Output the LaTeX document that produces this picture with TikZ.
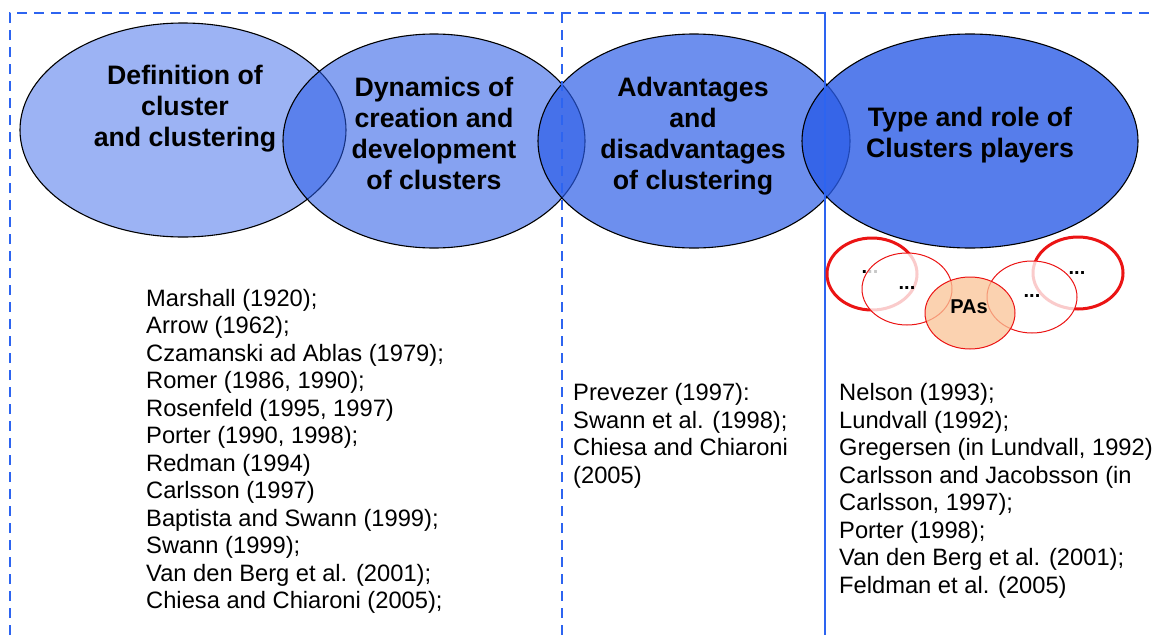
\documentclass[tikz,border=0pt]{standalone}
\usepackage{fontspec}
\setmainfont{Liberation Sans}
\usetikzlibrary{shapes.geometric}
\definecolor{frameblue}{RGB}{45,100,240}
\definecolor{ellblue}{RGB}{40,90,230}
\definecolor{pared}{RGB}{235,20,20}
\definecolor{paorange}{RGB}{250,195,150}
\begin{document}
\begin{tikzpicture}[x=1pt,y=-1pt,
  bigell/.style={ellipse, draw=black, line width=1.1pt, fill=ellblue, inner sep=0pt, minimum height=214pt},
  etitle/.style={align=center, font=\bfseries\fontsize{26.7}{31}\selectfont, inner sep=0pt},
  reftext/.style={align=left, anchor=north west, font=\fontsize{23.7}{27.5}\selectfont, inner sep=0pt},
  framesolid/.style={draw=frameblue, line width=2.2pt},
  framedash/.style={framesolid, line width=2.5pt, dash pattern=on 10pt off 7pt},
  ring/.style={ellipse, inner sep=0pt, minimum width=90pt, minimum height=72pt},
  thickring/.style={ring, draw=pared, line width=3pt},
  thinring/.style={ring, draw=pared, line width=1pt, fill=white, fill opacity=0.78},
  dots/.style={inner sep=0pt, font=\bfseries\fontsize{20}{24}\selectfont},
]
\useasboundingbox (0,0) rectangle (1156,635);
% big ellipses
\node[bigell, minimum width=326pt, fill opacity=0.46] (e1) at (183,130) {};
\node[bigell, minimum width=302pt, fill opacity=0.56] (e2) at (434,141) {};
\node[bigell, minimum width=312pt, fill opacity=0.68] (e3) at (694,141) {};
\node[bigell, minimum width=336pt, fill opacity=0.79] (e4) at (970,141) {};
% frame lines
\coordinate (bl) at (10,635);
\coordinate (tl) at (10,13);
\coordinate (tr) at (1156,13);
\coordinate (m1t) at (562,13);
\coordinate (m1b) at (562,635);
\coordinate (m2t) at (825,13);
\coordinate (m2b) at (825,635);
\draw[framedash] (bl) -- (tl) -- (tr);
\draw[framedash] (m1t) -- (m1b);
\draw[framesolid] (m2t) -- (m2b);
% titles
\node[etitle] (t1) at (185,108.5) {Definition of\\cluster\\and clustering};
\node[etitle] (t2) at (434,133) {Dynamics of\\creation and\\development\\of clusters};
\node[etitle] (t3) at (693,136) {Advantages\\and\\disadvantages\\of clustering};
\node[etitle] (t4) at (970,135) {Type and role of\\Clusters players};
% players
\node[thickring] (rl) at (872,274) {};
\node[thickring] (rr) at (1078,273) {};
\node[dots] (dl) at (870,272) {...};
\node[dots] (dr) at (1077,273) {...};
\node[thinring] (ol) at (907,289) {};
\node[thinring] (or) at (1032,297) {};
\node[dots] (dol) at (907,288) {...};
\node[dots] (dor) at (1032,296) {...};
\node[ring, draw=pared, line width=1pt, fill=paorange, fill opacity=0.75] (pa) at (970,313) {};
\node[inner sep=0pt, font=\bfseries\fontsize{20}{24}\selectfont] (pat) at (969,307) {PAs};
% references
\node[reftext] (r1) at (146,288.7) {Marshall (1920);\\Arrow (1962);\\Czamanski ad Ablas (1979);\\Romer (1986, 1990);\\Rosenfeld (1995, 1997)\\Porter (1990, 1998);\\Redman (1994)\\Carlsson (1997)\\Baptista and Swann (1999);\\Swann (1999);\\Van den Berg et al. (2001);\\Chiesa and Chiaroni (2005);};
\node[reftext] (r2) at (573,383.5) {Prevezer (1997):\\Swann et al. (1998);\\Chiesa and Chiaroni\\(2005)};
\node[reftext] (r3) at (839,383.5) {Nelson (1993);\\Lundvall (1992);\\Gregersen (in Lundvall, 1992)\\Carlsson and Jacobsson (in\\Carlsson, 1997);\\Porter (1998);\\Van den Berg et al. (2001);\\Feldman et al. (2005)};
\end{tikzpicture}
\end{document}
